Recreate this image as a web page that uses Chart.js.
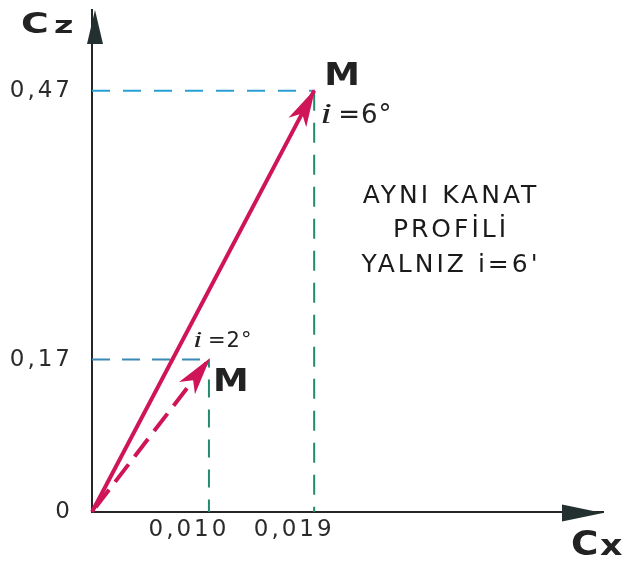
<!DOCTYPE html>
<html>
<head>
<meta charset="utf-8">
<script src="https://cdn.jsdelivr.net/npm/chart.js@4.4.1/dist/chart.umd.min.js"></script>
<style>
  html, body { margin: 0; padding: 0; background: #fff; }
  #wrap { width: 627px; height: 566px; position: relative; }
</style>
</head>
<body>
<div id="wrap"><canvas id="c" width="627" height="566"></canvas></div>
<script>
// Polar points of the same wing profile at two incidence angles
const cxValues = [0.010, 0.019];      // drag coefficient Cx
const czValues = [0.17, 0.47];        // lift coefficient Cz
const incidenceDeg = [2, 6];          // angle of incidence i

// Axis tick values and their printed labels
const xTickValues = [0.010, 0.019];
const xTickLabels = ['0,010', '0,019'];
const yTickValues = [0, 0.17, 0.47];
const yTickLabels = ['0', '0,17', '0,47'];

// Side note
const noteLines = ['AYNI KANAT', 'PROFİLİ', "YALNIZ i=6'"];

const VEC = '#cf1458';
const INK = '#222222';
const AXIS = '#262626';

function labelFor(values, labels, v) {
  const i = values.findIndex(t => Math.abs(t - v) < 1e-9);
  return i >= 0 ? labels[i] : '';
}

function arrowHead(ctx, x0, y0, x1, y1, len, half, notch, color) {
  const a = Math.atan2(y1 - y0, x1 - x0);
  const ux = Math.cos(a), uy = Math.sin(a);
  const nx = -uy, ny = ux;
  const bx = x1 - ux * len, by = y1 - uy * len;
  ctx.save();
  ctx.fillStyle = color;
  ctx.beginPath();
  ctx.moveTo(x1 + ux * 2, y1 + uy * 2);
  ctx.lineTo(bx + nx * half, by + ny * half);
  ctx.lineTo(x1 - ux * len * notch, y1 - uy * len * notch);
  ctx.lineTo(bx - nx * half, by - ny * half);
  ctx.closePath();
  ctx.fill();
  ctx.restore();
}

// Tick text is drawn with a little tracking
const trackingPlugin = {
  id: 'tracking',
  beforeDraw(chart) { chart.ctx.letterSpacing = '3px'; },
  afterDraw(chart) { chart.ctx.letterSpacing = '0px'; }
};

// Arrowheads on the axes and at the end of each polar vector
const arrowsPlugin = {
  id: 'arrows',
  afterDatasetsDraw(chart) {
    const ctx = chart.ctx;
    const a = chart.chartArea;
    // Cz axis
    ctx.save();
    ctx.fillStyle = '#233030';
    ctx.beginPath();
    ctx.moveTo(a.left + 3, a.top);
    ctx.lineTo(a.left + 3 - 8, a.top + 34);
    ctx.lineTo(a.left + 3 + 8, a.top + 34);
    ctx.closePath();
    ctx.fill();
    // Cx axis
    ctx.beginPath();
    ctx.moveTo(a.right, a.bottom + 1);
    ctx.lineTo(a.right - 41, a.bottom + 1 - 8.5);
    ctx.lineTo(a.right - 41, a.bottom + 1 + 8.5);
    ctx.closePath();
    ctx.fill();
    ctx.restore();

    [0, 1].forEach(idx => {
      const pts = chart.getDatasetMeta(idx).data;
      const p0 = pts[0], p1 = pts[pts.length - 1];
      arrowHead(ctx, p0.x, p0.y, p1.x, p1.y, 36, 10, 0.72, VEC);
    });
  }
};

// Text annotations: axis names, point names, angles, side note
const textPlugin = {
  id: 'texts',
  afterDraw(chart) {
    const ctx = chart.ctx;
    const xs = chart.scales.x, ys = chart.scales.y;
    ctx.save();
    ctx.letterSpacing = '0px';
    ctx.fillStyle = INK;
    ctx.textBaseline = 'alphabetic';
    ctx.textAlign = 'left';

    function scaled(text, font, x, y, sx) {
      ctx.save();
      ctx.font = font;
      ctx.translate(x, y);
      ctx.scale(sx, 1);
      ctx.fillText(text, 0, 0);
      ctx.restore();
    }

    // Axis names
    scaled('C', 'bold 28px "DejaVu Sans"', 21, 33, 1.35);
    scaled('z', 'bold 23px "DejaVu Sans"', 54, 33, 1.45);
    scaled('C', 'bold 34px "DejaVu Sans"', 571, 555, 1.1);
    scaled('x', 'bold 29px "DejaVu Sans"', 600, 555, 1.2);

    // Point names and incidence angles
    const p6 = { x: xs.getPixelForValue(cxValues[1]), y: ys.getPixelForValue(czValues[1]) };
    const p2 = { x: xs.getPixelForValue(cxValues[0]), y: ys.getPixelForValue(czValues[0]) };

    scaled('M', 'bold 32px "DejaVu Sans"', p6.x + 10, p6.y - 6, 1.12);
    scaled('M', 'bold 32px "DejaVu Sans"', p2.x + 4, p2.y + 31, 1.12);

    scaled('i', 'italic 30px "Liberation Serif"', p6.x + 6, p6.y + 32, 1.4);
    ctx.letterSpacing = '1px';
    scaled('=' + incidenceDeg[1] + '°', '26px "DejaVu Sans"', p6.x + 24, p6.y + 32, 1);
    ctx.letterSpacing = '0px';
    scaled('i', 'italic 24px "Liberation Serif"', p2.x - 16, p2.y - 13, 1.4);
    ctx.letterSpacing = '1px';
    scaled('=' + incidenceDeg[0] + '°', '21px "DejaVu Sans"', p2.x - 1, p2.y - 13, 1);

    // Side note
    ctx.letterSpacing = '3px';
    ctx.font = '25px "DejaVu Sans"';
    ctx.fillStyle = '#1a1a1a';
    ctx.textAlign = 'center';
    const baselines = [203, 237, 272];
    noteLines.forEach((t, i) => ctx.fillText(t, 451, baselines[i]));
    ctx.restore();
  }
};

const guide = (color, dash, offset) => ({
  showLine: true, borderColor: color, borderWidth: 2, borderDash: dash, borderDashOffset: offset,
  pointRadius: 0, fill: false, clip: false, tension: 0
});

new Chart(document.getElementById('c'), {
  type: 'scatter',
  data: {
    datasets: [
      // polar vectors from the origin
      { data: [{ x: 0, y: 0 }, { x: cxValues[1], y: czValues[1] }],
        showLine: true, borderColor: VEC, borderWidth: 4, pointRadius: 0, clip: false, tension: 0 },
      { data: [{ x: 0, y: 0 }, { x: cxValues[0], y: czValues[0] }],
        showLine: true, borderColor: VEC, borderWidth: 4, borderDash: [22, 10], borderDashOffset: -6,
        pointRadius: 0, clip: false, tension: 0 },
      // projection lines
      Object.assign({ data: [{ x: 0, y: czValues[1] }, { x: cxValues[1], y: czValues[1] }] }, guide('#2a9fd6', [18, 13], 0)),
      Object.assign({ data: [{ x: cxValues[1], y: czValues[1] }, { x: cxValues[1], y: 0 }] }, guide('#23896f', [20, 12], 0)),
      Object.assign({ data: [{ x: 0, y: czValues[0] }, { x: cxValues[0], y: czValues[0] }] }, guide('#3a88b4', [18, 12], 0)),
      Object.assign({ data: [{ x: cxValues[0], y: czValues[0] }, { x: cxValues[0], y: 0 }] }, guide('#23896f', [18, 12], 10))
    ]
  },
  options: {
    responsive: false,
    animation: false,
    devicePixelRatio: 1,
    layout: { padding: { top: 10, right: 24, left: 0, bottom: 0 } },
    plugins: { legend: { display: false }, tooltip: { enabled: false } },
    scales: {
      x: {
        type: 'linear', min: 0, max: 0.0437,
        grid: { display: false, drawTicks: false },
        border: { display: true, color: AXIS, width: 2 },
        afterBuildTicks: s => { s.ticks = xTickValues.map(v => ({ value: v })); },
        afterFit: s => { s.height = 54; s.paddingLeft = 0; s.paddingRight = 0; },
        ticks: {
          autoSkip: false, maxRotation: 0, padding: 4, labelOffset: -20,
          color: '#2b2b2b', font: { family: 'DejaVu Sans', size: 23 },
          callback: v => labelFor(xTickValues, xTickLabels, v)
        }
      },
      y: {
        type: 'linear', min: 0, max: 0.56,
        grid: { display: false, drawTicks: false },
        border: { display: true, color: AXIS, width: 2 },
        afterBuildTicks: s => { s.ticks = yTickValues.map(v => ({ value: v })); },
        afterFit: s => { s.width = 92; s.paddingTop = 0; s.paddingBottom = 0; },
        ticks: {
          autoSkip: false, padding: 19,
          color: '#2b2b2b', font: { family: 'DejaVu Sans', size: 23 },
          callback: v => labelFor(yTickValues, yTickLabels, v)
        }
      }
    }
  },
  plugins: [trackingPlugin, arrowsPlugin, textPlugin]
});
</script>
</body>
</html>
